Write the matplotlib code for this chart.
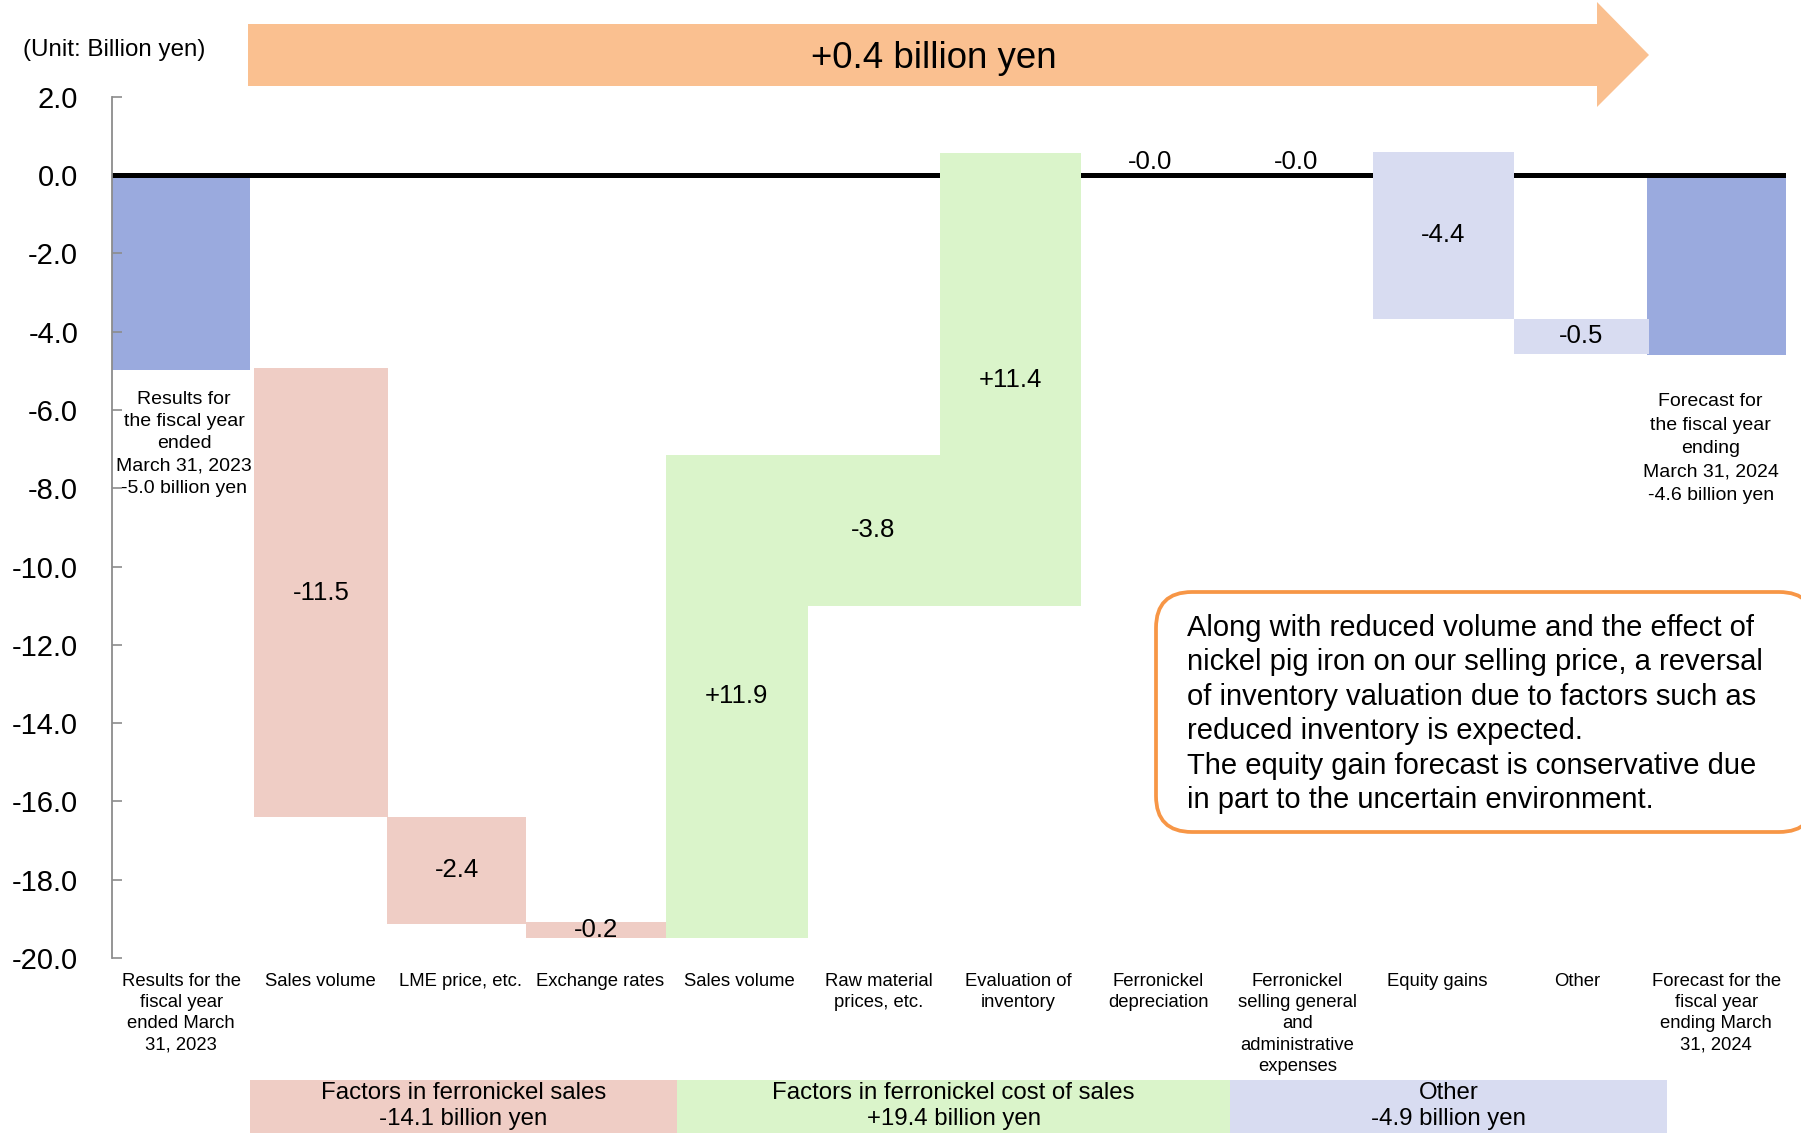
import matplotlib
matplotlib.use("Agg")
import matplotlib.pyplot as plt
from matplotlib.patches import Polygon, Rectangle, FancyBboxPatch
from matplotlib.transforms import IdentityTransform

plt.rcParams['font.family'] = ['Liberation Sans', 'DejaVu Sans']
plt.rcParams['axes.unicode_minus'] = False

# ---------------- data ----------------
categories = [
    "Results for the\nfiscal year\nended March\n31, 2023",
    "Sales volume",
    "LME price, etc.",
    "Exchange rates",
    "Sales volume",
    "Raw material\nprices, etc.",
    "Evaluation of\ninventory",
    "Ferronickel\ndepreciation",
    "Ferronickel\nselling general\nand\nadministrative\nexpenses",
    "Equity gains",
    "Other",
    "Forecast for the\nfiscal year\nending March\n31, 2024",
]
# drawn extents of each floating bar (billion yen)
bar_start = [0.0, -4.92, -16.41, -19.07, -19.50, -7.14, -11.02, 0.0, 0.0, 0.60, -3.67, 0.0]
bar_end = [-4.97, -16.41, -19.12, -19.50, -7.14, -11.02, 0.57, 0.0, 0.0, -3.67, -4.56, -4.59]
value_labels = ["", "-11.5", "-2.4", "-0.2", "+11.9", "-3.8", "+11.4", "-0.0", "-0.0", "-4.4", "-0.5", ""]
bar_group = ["total", "sales", "sales", "sales", "cost", "cost", "cost", "other", "other", "other", "other", "total"]

yticks = [2.0, 0.0, -2.0, -4.0, -6.0, -8.0, -10.0, -12.0, -14.0, -16.0, -18.0, -20.0]

start_note = "Results for\nthe fiscal year\nended\nMarch 31, 2023\n-5.0 billion yen"
end_note = "Forecast for\nthe fiscal year\nending\nMarch 31, 2024\n-4.6 billion yen"
total_change = "+0.4 billion yen"
unit_text = "(Unit: Billion yen)"
group_texts = ["Factors in ferronickel sales\n-14.1 billion yen",
               "Factors in ferronickel cost of sales\n+19.4 billion yen",
               "Other\n-4.9 billion yen"]
comment = ("Along with reduced volume and the effect of\n"
           "nickel pig iron on our selling price, a reversal\n"
           "of inventory valuation due to factors such as\n"
           "reduced inventory is expected.\n"
           "The equity gain forecast is conservative due\n"
           "in part to the uncertain environment.")

# ---------------- layout / style ----------------
# left/right edges of drawn bar shapes, in category units (layout, not data)
bar_left = [-0.50, 0.52, 1.475, 2.47, 3.475, 4.488, 5.434, 6.44, 7.49, 8.537, 9.549, 10.504]
bar_right = [0.496, 1.484, 2.47, 3.475, 4.488, 5.434, 6.447, 7.44, 8.49, 9.549, 10.52, 11.50]

colors = {"total": "#9AAADE", "sales": "#EFCDC5", "cost": "#DAF4CA", "other": "#D8DCF1"}

W, H = 1801, 1133
fig = plt.figure(figsize=(W / 100, H / 100), dpi=100)


def fx(px):
    return px / W


def fy(py):
    return 1 - py / H


ax = fig.add_axes([fx(111.5), fy(958), fx(1786) - fx(111.5), fy(96.7) - fy(958)])
ax.set_xlim(-0.5, len(categories) - 0.5)
ax.set_ylim(-20, 2)

for i, (s, e, g) in enumerate(zip(bar_start, bar_end, bar_group)):
    z = 1 if g == "total" else 3
    l, r = bar_left[i], bar_right[i]
    ax.bar((l + r) / 2, abs(e - s), bottom=min(s, e), width=r - l, color=colors[g],
           zorder=z, linewidth=0)

ax.axhline(0, color="black", lw=3.6, zorder=2)

for i, (s, e, lab) in enumerate(zip(bar_start, bar_end, value_labels)):
    if not lab:
        continue
    xc = (bar_left[i] + bar_right[i]) / 2
    if s == e:
        ax.annotate(lab, (xc, s), xytext=(0, 1), textcoords="offset points",
                    ha="center", va="bottom", fontsize=18.5, zorder=5)
    else:
        ax.text(xc, (s + e) / 2, lab, ha="center", va="center", fontsize=18.5, zorder=5)

ax.text(0.02, -6.87, start_note, ha="center", va="center", fontsize=14, linespacing=1.39, zorder=5)
ax.text(len(categories) - 1 - 0.04, -6.99, end_note, ha="center", va="center", fontsize=14,
        linespacing=1.5, zorder=5)

for sp in ["top", "right", "bottom"]:
    ax.spines[sp].set_visible(False)
ax.spines["left"].set_color("#8C8C8C")
ax.spines["left"].set_linewidth(1.3)
ax.set_yticks(yticks)
ax.set_yticklabels([f"{v:.1f}" for v in yticks], fontsize=21)
ax.tick_params(axis="y", direction="in", length=7, width=1.2, color="#8C8C8C", pad=24)
ax.set_xticks(range(len(categories)))
ax.set_xticklabels(categories, fontsize=13.3, linespacing=1.34)
ax.tick_params(axis="x", length=0, pad=10.5)

# ---------------- decorations ----------------
arrow_px = [(248, 24), (1597, 24), (1597, 2), (1649, 55), (1597, 107), (1597, 86), (248, 86)]
fig.add_artist(Polygon([(fx(x), fy(y)) for x, y in arrow_px], closed=True,
                       transform=fig.transFigure, facecolor="#FAC090", edgecolor="none"))
fig.text(fx(934), fy(58.5), total_change, fontsize=26.4, ha="center", va="center")
fig.text(fx(23), fy(50), unit_text, fontsize=17.4, ha="left", va="center")

bands = [(250, 677, colors["sales"]), (677, 1230, colors["cost"]), (1230, 1667, colors["other"])]
for (x0, x1, c), t in zip(bands, group_texts):
    fig.add_artist(Rectangle((fx(x0), fy(1133)), fx(x1) - fx(x0), fy(1080) - fy(1133),
                             transform=fig.transFigure, facecolor=c, edgecolor="none"))
    fig.text(fx((x0 + x1) / 2), fy(1106), t, fontsize=17.3, ha="center", va="center",
             linespacing=1.22)

box = FancyBboxPatch((1156, H - 832), 1815 - 1156, 832 - 592,
                     boxstyle="round,pad=0,rounding_size=36", transform=IdentityTransform(),
                     facecolor="white", edgecolor="#F79646", linewidth=2.7)
fig.add_artist(box)
fig.text(fx(1187), fy(714), comment, fontsize=21, ha="left", va="center", linespacing=1.29)

fig.savefig("out.png", dpi=100)
